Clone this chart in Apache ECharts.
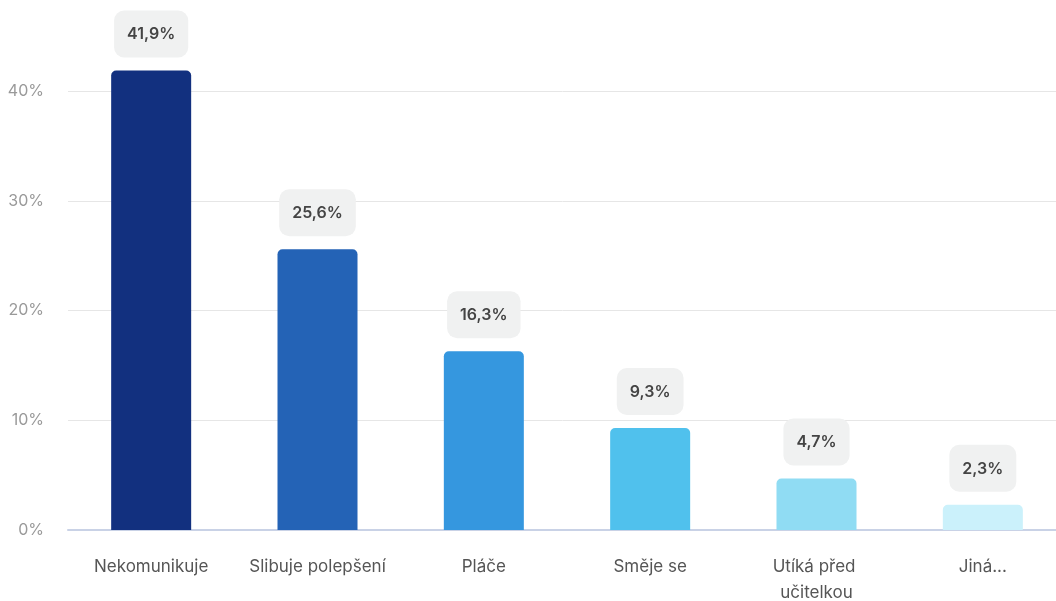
<!DOCTYPE html>
<html><head><meta charset="utf-8">
<script src="https://cdn.jsdelivr.net/npm/echarts@6/dist/echarts.min.js"></script>
<style>html,body{margin:0;padding:0;background:#fff}#c{width:1056px;height:601px}</style>
</head><body><div id="c"></div>
<script>
const categories = ["Nekomunikuje", "Slibuje polepšení", "Pláče", "Směje se", "Utíká před učitelkou", "Jiná..."];
const values = [41.9, 25.6, 16.3, 9.3, 4.7, 2.3];
const colors = ["#12307f", "#2463b6", "#3597df", "#50c1ed", "#90dcf3", "#cbf1fb"];
const yTicks = [0, 10, 20, 30, 40];

const chart = echarts.init(document.getElementById('c'));
chart.setOption({
  animation: false,
  grid: { left: 68, right: -10, top: 20, bottom: 71, containLabel: false, outerBoundsMode: 'none' },
  xAxis: {
    type: 'category', data: categories,
    axisTick: { show: false },
    axisLine: { lineStyle: { color: '#c9d2e6', width: 2 } },
    axisLabel: { interval: 0, color: '#555', fontSize: 17, fontFamily: 'Inter', margin: 24, width: 160, overflow: 'break', lineHeight: 26 }
  },
  yAxis: {
    type: 'value', min: yTicks[0], max: 46.5, interval: 10,
    axisLabel: { color: '#999', fontSize: 16, fontFamily: 'Inter', margin: 24, formatter: '{value}%', showMaxLabel: false },
    splitLine: { showMaxLine: false, lineStyle: { color: '#e6e6e6', width: 1 } },
    axisLine: { show: false }, axisTick: { show: false }
  },
  series: [{
    type: 'bar', barWidth: 80,
    data: values.map((v, i) => ({ value: v, itemStyle: { color: colors[i], borderRadius: [5, 5, 0, 0] } })),
    label: {
      show: true, position: 'top', distance: 13,
      formatter: p => String(p.value).replace('.', ',') + '%',
      color: '#444', fontSize: 16, fontWeight: 600, fontFamily: 'Inter',
      backgroundColor: '#f0f1f1', borderRadius: 10, padding: [16, 13, 15, 13]
    }
  }]
});
</script></body></html>
